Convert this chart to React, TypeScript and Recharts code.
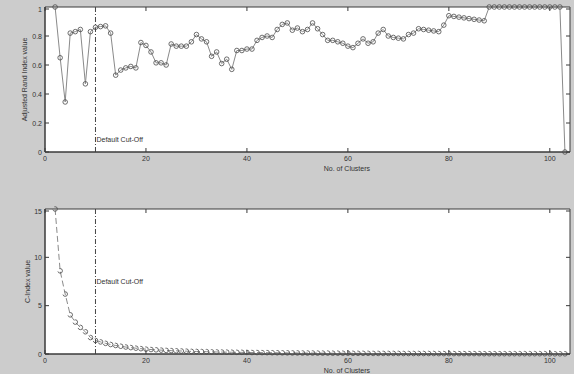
import { LineChart, Line, XAxis, YAxis, ReferenceLine, ReferenceArea, CartesianGrid } from 'recharts';

// number of clusters, 2..103
const clusters = Array.from({ length: 102 }, (_, i) => i + 2);

const ariValues = [
  1.0, 0.65, 0.345, 0.82, 0.83, 0.845, 0.47, 0.83, 0.86, 0.865,
  0.87, 0.82, 0.53, 0.565, 0.58, 0.59, 0.58, 0.755, 0.735, 0.69,
  0.615, 0.615, 0.6, 0.745, 0.73, 0.73, 0.73, 0.76, 0.81, 0.78,
  0.76, 0.66, 0.69, 0.61, 0.64, 0.57, 0.7, 0.7, 0.71, 0.71,
  0.77, 0.79, 0.8, 0.79, 0.845, 0.88, 0.89, 0.84, 0.855, 0.83,
  0.845, 0.89, 0.85, 0.81, 0.77, 0.77, 0.76, 0.75, 0.73, 0.72,
  0.75, 0.78, 0.75, 0.76, 0.82, 0.845, 0.8, 0.79, 0.785, 0.78,
  0.81, 0.82, 0.85, 0.845, 0.84, 0.835, 0.83, 0.875, 0.94, 0.935,
  0.93, 0.925, 0.92, 0.915, 0.91, 0.905, 1, 1, 1, 1,
  1, 1, 1, 1, 1, 1, 1, 1, 1, 1,
  1, 0,
];

const cIndexValues = [
  15, 8.6, 6.2, 4.05, 3.3, 2.75, 2.3, 1.7, 1.4, 1.25,
  1.1, 0.98, 0.88, 0.8, 0.72, 0.66, 0.6, 0.55, 0.5, 0.46,
  0.43, 0.4, 0.37, 0.35, 0.33, 0.31, 0.29, 0.27, 0.26, 0.25,
  0.24, 0.22, 0.21, 0.2, 0.19, 0.18, 0.17, 0.17, 0.16, 0.15,
  0.15, 0.14, 0.14, 0.13, 0.13, 0.12, 0.12, 0.11, 0.11, 0.1,
  0.1, 0.1, 0.09, 0.09, 0.09, 0.08, 0.08, 0.08, 0.08, 0.07,
  0.07, 0.07, 0.07, 0.06, 0.06, 0.06, 0.06, 0.06, 0.06, 0.05,
  0.05, 0.05, 0.05, 0.05, 0.05, 0.05, 0.04, 0.04, 0.04, 0.04,
  0.04, 0.04, 0.04, 0.04, 0.04, 0.03, 0.03, 0.03, 0.03, 0.03,
  0.03, 0.03, 0.03, 0.03, 0.03, 0.03, 0.03, 0.03, 0.02, 0.02,
  0.02, 0.02,
];

const xTicks = [0, 20, 40, 60, 80, 100];
const ariTicks = [0, 0.2, 0.4, 0.6, 0.8, 1];
const cIndexTicks = [0, 5, 10, 15];
const cutOff = 10;

const data = clusters.map((n, i) => ({ n, ari: ariValues[i], cIndex: cIndexValues[i] }));

const AXIS = '#3a3a3a';
const TXT = '#333';
const FONT = '"Liberation Sans", Arial, sans-serif';
const W = 574;
const PLOT_TOP = 7;
const PLOT_RIGHT = 570;

const xTick = (p: any) => (
  <g>
    <line x1={p.x} y1={p.y} x2={p.x} y2={p.y - 4} stroke={AXIS} />
    <line x1={p.x} y1={PLOT_TOP} x2={p.x} y2={PLOT_TOP + 4} stroke={AXIS} />
    <text x={p.x} y={p.y + 9} textAnchor="middle" fontSize={7} fill={TXT} fontFamily={FONT}>
      {p.payload.value}
    </text>
  </g>
);

const yTick = (p: any) => (
  <g>
    <line x1={p.x} y1={p.y} x2={p.x + 4} y2={p.y} stroke={AXIS} />
    <line x1={PLOT_RIGHT} y1={p.y} x2={PLOT_RIGHT - 4} y2={p.y} stroke={AXIS} />
    <text x={p.x - 3} y={p.y + 2.5} textAnchor="end" fontSize={7} fill={TXT} fontFamily={FONT}>
      {p.payload.value}
    </text>
  </g>
);

const xLabel = ({ viewBox }: any) => (
  <text x={viewBox.x + viewBox.width * 0.575} y={viewBox.y + 18.5} textAnchor="middle" fontSize={7} fill={TXT} fontFamily={FONT}>
    No. of Clusters
  </text>
);

const yLabel = (text: string, dx: number) => ({ viewBox }: any) => (
  <text
    transform={`translate(${viewBox.x + dx},${viewBox.y + viewBox.height / 2}) rotate(-90)`}
    textAnchor="middle"
    fontSize={7}
    fill={TXT}
    fontFamily={FONT}
  >
    {text}
  </text>
);

const cutLabel = (fromBottom: boolean) => ({ viewBox }: any) => (
  <text
    x={viewBox.x + 1}
    y={fromBottom ? viewBox.y + viewBox.height - 10.5 : viewBox.y + viewBox.height / 2 + 2}
    fontSize={7}
    fill={TXT}
    fontFamily={FONT}
  >
    Default Cut-Off
  </text>
);

const dotStyle = { r: 2.3, stroke: '#4a4a4a', strokeWidth: 0.8, fill: 'none' };

export default function App() {
  return (
    <div style={{ position: 'absolute', left: 0, top: 0, width: W, height: 374, background: '#cccccc', overflow: 'hidden' }}>
      <div style={{ position: 'absolute', left: 0, top: 0 }}>
        <LineChart width={W} height={180} data={data} margin={{ top: PLOT_TOP, right: W - PLOT_RIGHT, left: 0, bottom: 0 }}>
          <CartesianGrid horizontal={false} vertical={false} fill="#ffffff" />
          <XAxis
            type="number"
            dataKey="n"
            domain={[0, 104]}
            ticks={xTicks}
            height={28}
            tickSize={0}
            tickMargin={0}
            tickLine={false}
            stroke={AXIS}
            tick={xTick}
            label={{ content: xLabel }}
          />
          <YAxis
            type="number"
            domain={[0, 1]}
            ticks={ariTicks}
            width={45}
            tickSize={0}
            tickMargin={0}
            tickLine={false}
            stroke={AXIS}
            tick={yTick}
            label={{ content: yLabel('Adjusted Rand Index value', 26.5) }}
          />
          <ReferenceArea x1={0} x2={104} y1={0} y2={1} fill="none" stroke={AXIS} />
          <ReferenceLine x={cutOff} stroke="#444" strokeDasharray="5 2 1 2" label={{ content: cutLabel(true) }} />
          <Line
            type="linear"
            dataKey="ari"
            stroke="#8a8a8a"
            strokeWidth={1}
            dot={dotStyle}
            isAnimationActive={false}
          />
        </LineChart>
      </div>
      <div style={{ position: 'absolute', left: 0, top: 202 }}>
        <LineChart width={W} height={172} data={data} margin={{ top: PLOT_TOP, right: W - PLOT_RIGHT, left: 0, bottom: 0 }}>
          <CartesianGrid horizontal={false} vertical={false} fill="#ffffff" />
          <XAxis
            type="number"
            dataKey="n"
            domain={[0, 104]}
            ticks={xTicks}
            height={20}
            tickSize={0}
            tickMargin={0}
            tickLine={false}
            stroke={AXIS}
            tick={xTick}
            label={{ content: xLabel }}
          />
          <YAxis
            type="number"
            domain={[0, 15]}
            ticks={cIndexTicks}
            width={45}
            tickSize={0}
            tickMargin={0}
            tickLine={false}
            stroke={AXIS}
            tick={yTick}
            label={{ content: yLabel('C-Index value', 29.5) }}
          />
          <ReferenceArea x1={0} x2={104} y1={0} y2={15} fill="none" stroke={AXIS} />
          <ReferenceLine x={cutOff} stroke="#444" strokeDasharray="5 2 1 2" label={{ content: cutLabel(false) }} />
          <Line
            type="linear"
            dataKey="cIndex"
            stroke="#8a8a8a"
            strokeWidth={1}
            strokeDasharray="6 3"
            dot={dotStyle}
            isAnimationActive={false}
          />
        </LineChart>
      </div>
    </div>
  );
}
